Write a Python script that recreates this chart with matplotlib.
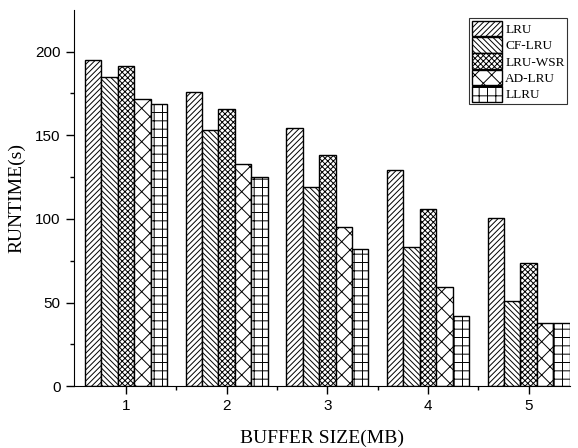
import matplotlib
matplotlib.use("Agg")
import matplotlib.pyplot as plt
import numpy as np

buffer_sizes = [1, 2, 3, 4, 5]
series_names = ["LRU", "CF-LRU", "LRU-WSR", "AD-LRU", "LLRU"]
lru = [195, 176, 154.5, 129, 100.5]
cf_lru = [185, 153, 119, 83, 51]
lru_wsr = [191.5, 166, 138, 106, 73.5]
ad_lru = [172, 133, 95, 59, 38]
llru = [169, 125, 82, 42, 38]
series = [lru, cf_lru, lru_wsr, ad_lru, llru]
hatches = ["//////", "\\\\\\\\\\\\", "xxxxxx", "xx", "++"]

plt.rcParams['hatch.linewidth'] = 0.7
fig = plt.figure(figsize=(5.78, 4.48), dpi=100)
ax = fig.add_axes([0.128, 0.138, 0.858, 0.84])

w = 0.163
x = np.array(buffer_sizes, dtype=float)
for i, (name, vals, h) in enumerate(zip(series_names, series, hatches)):
    ax.bar(x + (i - 2) * w, vals, w, label=name, facecolor="white",
           edgecolor="black", hatch=h, linewidth=1.0)

ax.set_xlim(0.483, 5.41)
ax.set_ylim(0, 225)
ax.set_xticks(buffer_sizes)
ax.set_xticks([1.5, 2.5, 3.5, 4.5], minor=True)
ax.set_yticks([0, 50, 100, 150, 200])
ax.set_yticks([25, 75, 125, 175], minor=True)
ax.spines['top'].set_visible(False)
ax.spines['right'].set_visible(False)
ax.tick_params(which='major', direction='out', length=6, width=1, labelsize=11)
ax.tick_params(which='minor', direction='out', length=3, width=1)
for lab in ax.get_xticklabels() + ax.get_yticklabels():
    lab.set_family("Liberation Sans")

ax.set_xlabel("BUFFER SIZE(MB)", family="Liberation Serif", fontsize=14, labelpad=12)
ax.set_ylabel("RUNTIME(s)", family="Liberation Serif", fontsize=14, labelpad=7)

leg = ax.legend(loc="upper right", bbox_to_anchor=(1.0, 0.985),
                prop={"family": "Liberation Serif", "size": 9.5},
                frameon=True, fancybox=False, edgecolor="black",
                handlelength=2.3, handleheight=1.45, borderpad=0.2,
                labelspacing=0.05, handletextpad=0.25, borderaxespad=0.2)
leg.get_frame().set_linewidth(0.8)

fig.savefig("out.png", dpi=100)
